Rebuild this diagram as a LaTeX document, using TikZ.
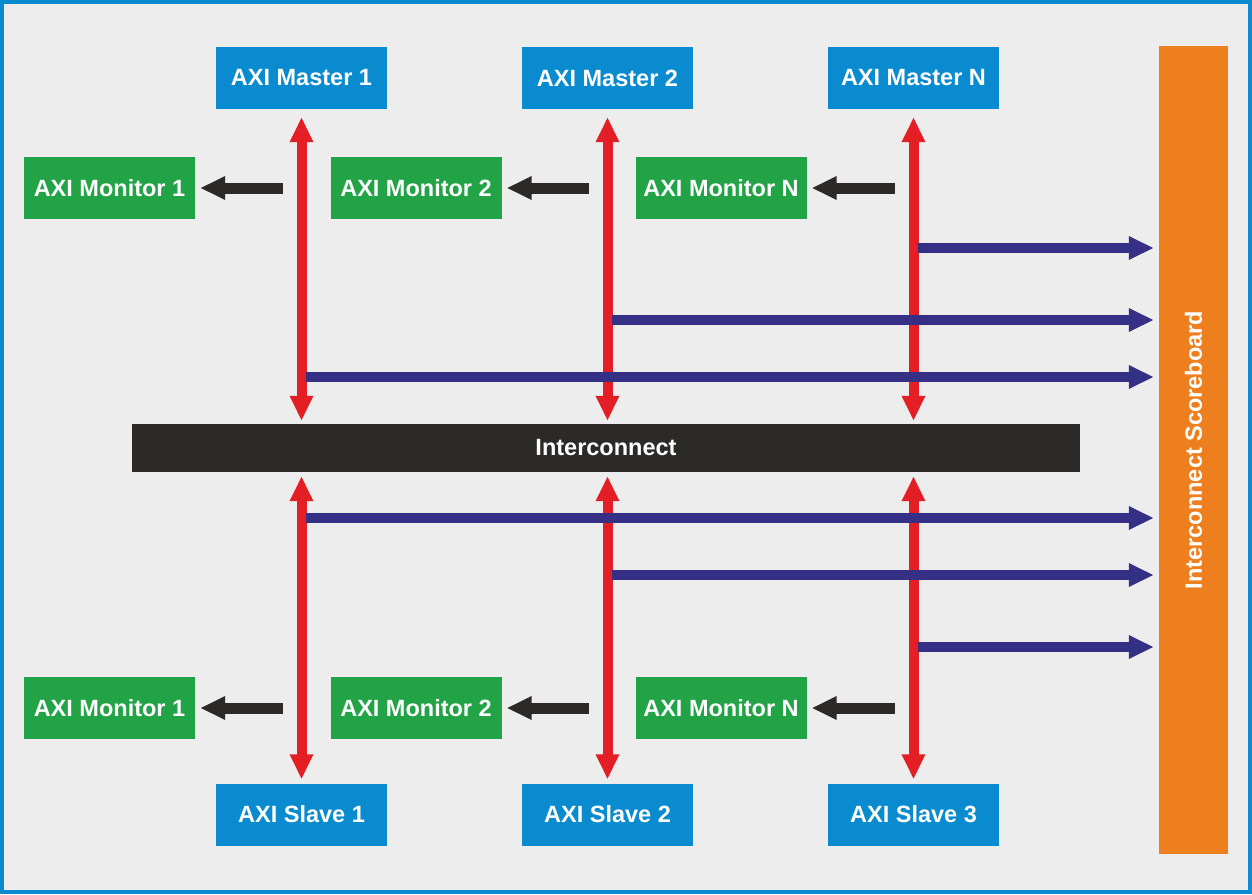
\documentclass[tikz,border=0pt]{standalone}
\usepackage{fontspec}
\setmainfont{Liberation Sans}
\usepackage{tikz}
\usetikzlibrary{arrows.meta,calc}

\definecolor{axiblue}{HTML}{0A8BD0}
\definecolor{axigreen}{HTML}{21A346}
\definecolor{axired}{HTML}{E31E24}
\definecolor{axinavy}{HTML}{352F86}
\definecolor{axiorange}{HTML}{EE7F1E}
\definecolor{axiblack}{HTML}{2B2A29}
\definecolor{axibg}{HTML}{EDEDED}

\begin{document}
\begin{tikzpicture}[x=1pt,y=-1pt,
		every node/.style={text=white,font=\bfseries\fontsize{23.5}{28}\selectfont,inner sep=0pt},
		block/.style={minimum width=171pt,minimum height=62pt},
		master/.style={block,fill=axiblue},
		monitor/.style={block,fill=axigreen},
		bus/.style={draw=axired,line width=10pt,{Triangle[length=25pt,width=22pt]}-{Triangle[length=25pt,width=22pt]}},
		tap/.style={draw=axiblack,line width=11pt,-{Triangle[length=25pt,width=22pt]},shorten >=5pt},
		feed/.style={draw=axinavy,line width=10pt,-{Triangle[length=25pt,width=22pt]},shorten >=5pt}]
			\useasboundingbox (0,0) rectangle (1252,894);
			\draw[draw=axiblue,fill=axibg,line width=4pt] (2,2) rectangle (1250,892);
			
			% masters and slaves
			\node[master] (m1) at (301.5,78) {AXI Master 1};
			\node[master] (m2) at (607.5,78) {AXI Master 2};
			\node[master] (m3) at (913.5,78) {AXI Master N};
			\node[master] (s1) at (301.5,814.5) {AXI Slave 1};
			\node[master] (s2) at (607.5,814.5) {AXI Slave 2};
			\node[master] (s3) at (913.5,814.5) {AXI Slave 3};
			
			% monitors
			\node[monitor] (mon1) at (109.5,188) {AXI Monitor 1};
			\node[monitor] (mon2) at (416,188) {AXI Monitor 2};
			\node[monitor] (mon3) at (721,188) {AXI Monitor N};
			\node[monitor] (smon1) at (109.5,708) {AXI Monitor 1};
			\node[monitor] (smon2) at (416,708) {AXI Monitor 2};
			\node[monitor] (smon3) at (721,708) {AXI Monitor N};
			
			\node[fill=axiblack,minimum width=948pt,minimum height=48pt] (ic) at (606,448) {Interconnect};
			\node[fill=axiorange,minimum width=69pt,minimum height=808pt] (sb) at (1193.5,450)
				{\rotatebox{90}{Interconnect Scoreboard}};
			
			% bus arrows
			\foreach \m/\s in {m1/s1,m2/s2,m3/s3}{
				\draw[bus,shorten <=8pt,shorten >=3pt] (\m.south) -- (ic.north -| \m.south);
				\draw[bus,shorten <=4pt,shorten >=4pt] (ic.south -| \s.north) -- (\s.north);
			}
			
			% monitor taps
			\foreach \m/\n in {m1/mon1,m2/mon2,m3/mon3,s1/smon1,s2/smon2,s3/smon3}
				\draw[tap] ($(\n.east -| \m.south)+(-19,0)$) -- (\n.east);
			
			% scoreboard feeds
			\foreach \m/\y in {m3/248,m2/320,m1/377,s1/518,s2/575,s3/647}
				\draw[feed] ($(\m.south |- 0,\y)+(4,0)$) -- (sb.west |- 0,\y);
\end{tikzpicture}
\end{document}
